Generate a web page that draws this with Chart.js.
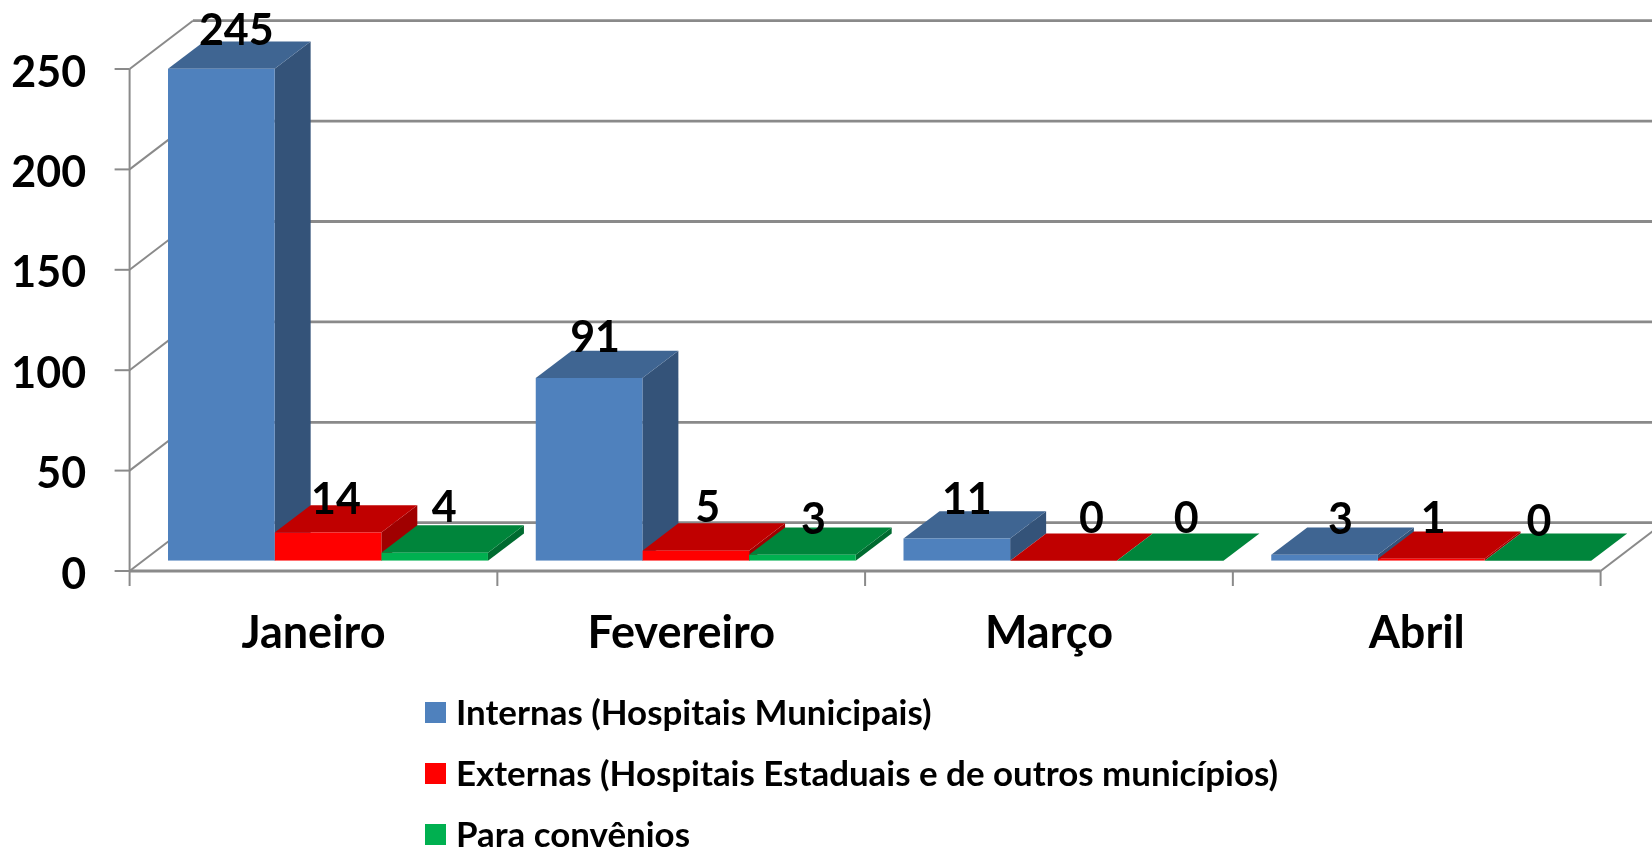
<!DOCTYPE html>
<html>
<head>
<meta charset="utf-8">
<title>Internas, externas e convenios</title>
<script src="https://cdn.jsdelivr.net/npm/chart.js@4"></script>
<style>
	html, body { margin: 0; padding: 0; background: #ffffff; }
	canvas { display: block; }
</style>
</head>
<body>
<canvas id="myChart" width="1652" height="847"></canvas>
<script>
// DATA
var categories = ["Janeiro", "Fevereiro", "Março", "Abril"];
var seriesNames = ["Internas (Hospitais Municipais)", "Externas (Hospitais Estaduais e de outros municípios)", "Para convênios"];
var internas = [245, 91, 11, 3];
var externas = [14, 5, 0, 1];
var convenios = [4, 3, 0, 0];
var yTicks = [0, 50, 100, 150, 200, 250];

// COLOURS (front, top, side of each box)
var frontColors = ["#4f81bd", "#ff0000", "#00b050"];
var topColors = ["#3f6592", "#c00000", "#00853b"];
var sideColors = ["#345379", "#a00000", "#006b30"];
var axisColor = "#8a8a8a";

// 3D LOOK
var FONT = "Lato";
var barDepthX = 36;
var barDepthY = 27.3;
// how far the front edge of the floor and the back wall sit from the plane of the bars
var frontX = -14.5, frontY = 10.3;
var backX = 48.8, backY = -38;

// the value labels were moved by hand in the original, one offset per bar
var labelDx = [[15, 6, 10, 16], [8, 12, 28, 2], [9.5, 11, 16, 1]];
var labelDy = [[-38, -40, -38, -35], [-32, -43, -42, -40], [-45, -35, -42, -39]];

function line(ctx, x1, y1, x2, y2, width) {
	ctx.beginPath();
	ctx.lineWidth = width;
	ctx.moveTo(x1, y1);
	ctx.lineTo(x2, y2);
	ctx.stroke();
}

function poly(ctx, color, pts) {
	ctx.beginPath();
	ctx.fillStyle = color;
	ctx.moveTo(pts[0], pts[1]);
	for (var i = 2; i < pts.length; i += 2) {
		ctx.lineTo(pts[i], pts[i + 1]);
	}
	ctx.closePath();
	ctx.fill();
}

// walls, floor and the side/top faces of the bars; the fronts are the real chart bars
var boxPlugin = {
	id: "box3d",
	beforeDatasetsDraw: function(chart) {
		var ctx = chart.ctx;
		var xs = chart.scales.x;
		var ys = chart.scales.y;
		var fx = xs.left + frontX;
		var bx = xs.left + backX;
		var edge = chart.width;
		var step = xs.width / categories.length;

		ctx.save();
		ctx.strokeStyle = axisColor;
		for (var i = 0; i < yTicks.length; i++) {
			var yp = ys.getPixelForValue(yTicks[i]);
			line(ctx, fx, yp + frontY, bx, yp + backY, 2);
			line(ctx, bx, yp + backY, edge, yp + backY, 2.8);
			line(ctx, fx - 15, yp + frontY, fx, yp + frontY, 2);
		}
		var floorY = ys.getPixelForValue(0) + frontY;
		var topY = ys.getPixelForValue(250) + frontY;
		line(ctx, fx, topY, fx, floorY + 15, 2);
		line(ctx, fx, floorY, fx + step * categories.length, floorY, 3);
		for (var k = 1; k <= categories.length; k++) {
			line(ctx, fx + step * k, floorY, fx + step * k, floorY + 15, 2);
		}
		line(ctx, fx + step * categories.length, floorY, fx + step * categories.length + (backX - frontX), floorY + backY - frontY, 2);

		// left to right so each box covers the one before it
		for (var c = 0; c < categories.length; c++) {
			for (var d = 0; d < chart.data.datasets.length; d++) {
				var bar = chart.getDatasetMeta(d).data[c];
				var l = bar.x - bar.width / 2;
				var r = bar.x + bar.width / 2;
				poly(ctx, sideColors[d], [r, bar.y, r + barDepthX, bar.y - barDepthY, r + barDepthX, bar.base - barDepthY, r, bar.base]);
				poly(ctx, topColors[d], [l, bar.y, l + barDepthX, bar.y - barDepthY, r + barDepthX, bar.y - barDepthY, r, bar.y]);
			}
		}
		ctx.restore();
	},
	afterDatasetsDraw: function(chart) {
		var ctx = chart.ctx;
		ctx.save();
		ctx.fillStyle = "#000000";
		ctx.font = "bold 43px " + FONT;
		ctx.textAlign = "center";
		ctx.textBaseline = "middle";
		for (var d = 0; d < chart.data.datasets.length; d++) {
			var values = chart.data.datasets[d].data;
			var meta = chart.getDatasetMeta(d);
			for (var c = 0; c < values.length; c++) {
				ctx.fillText(values[c], meta.data[c].x + labelDx[d][c], meta.data[c].y + labelDy[d][c]);
			}
		}

		// legend, one entry per row
		ctx.textAlign = "left";
		ctx.font = "bold 34.9px " + FONT;
		for (var n = 0; n < seriesNames.length; n++) {
			var rowY = 713 + n * 61;
			ctx.fillStyle = frontColors[n];
			ctx.fillRect(425, rowY - 11, 21, 21);
			ctx.fillStyle = "#000000";
			ctx.fillText(seriesNames[n], 456, rowY + 1);
		}
		ctx.restore();
	}
};

var ctx = document.getElementById("myChart");
var myChart = new Chart(ctx, {
	type: "bar",
	plugins: [boxPlugin],
	data: {
		labels: categories,
		datasets: [
			{ label: seriesNames[0], data: internas, backgroundColor: frontColors[0] },
			{ label: seriesNames[1], data: externas, backgroundColor: frontColors[1] },
			{ label: seriesNames[2], data: convenios, backgroundColor: frontColors[2] }
		]
	},
	options: {
		responsive: false,
		animation: false,
		layout: { padding: { top: 58.7, right: 36.9, bottom: 186.3, left: 0 } },
		datasets: { bar: { categoryPercentage: 0.87, barPercentage: 1 } },
		plugins: {
			legend: { display: false },
			tooltip: { enabled: false }
		},
		scales: {
			x: {
				afterFit: function(axis) { axis.height = 100; },
				grid: { display: false, drawTicks: false },
				border: { display: false },
				ticks: {
					color: "#000000",
					padding: 46,
					labelOffset: -14.5,
					font: { family: FONT, weight: "bold", size: 45 }
				}
			},
			y: {
				min: 0,
				max: 250,
				// the labels are shifted down, so they need no room above the axis
				afterFit: function(axis) {
					axis.width = 144.1;
					axis.paddingTop = 0;
					axis.paddingBottom = 0;
				},
				afterBuildTicks: function(axis) {
					axis.ticks = yTicks.map(function(v) { return { value: v }; });
				},
				grid: { display: false, drawTicks: false },
				border: { display: false },
				ticks: {
					color: "#000000",
					padding: 58,
					labelOffset: 14,
					font: { family: FONT, weight: "bold", size: 43 }
				}
			}
		}
	}
});
</script>
</body>
</html>
